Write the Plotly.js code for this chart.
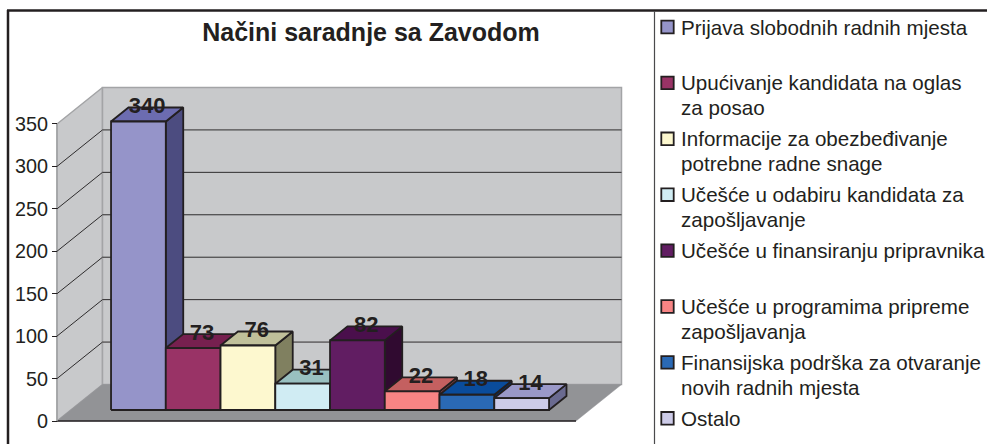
<!DOCTYPE html>
<html>
<head>
<meta charset="utf-8">
<script src="https://cdn.plot.ly/plotly-3.0.1.min.js"></script>
<style>html,body{margin:0;padding:0;background:#fff}#chart{width:987px;height:444px}</style>
</head>
<body>
<div id="chart"></div>
<script>
const categories = [
  "Prijava slobodnih radnih mjesta",
  "Upućivanje kandidata na oglas<br>za posao",
  "Informacije za obezbeđivanje<br>potrebne radne snage",
  "Učešće u odabiru kandidata za<br>zapošljavanje",
  "Učešće u finansiranju pripravnika",
  "Učešće u programima pripreme<br>zapošljavanja",
  "Finansijska podrška za otvaranje<br>novih radnih mjesta",
  "Ostalo"
];
const values = [340, 73, 76, 31, 82, 22, 18, 14];
const frontColors = ["#9594c9","#993366","#fdf8cf","#d0ecf3","#611d62","#f78484","#2a69b5","#cdcbe8"];
const topColors   = ["#6c6cb0","#76204f","#c0c09a","#99c0c0","#4a0f4c","#c46060","#0a4c9c","#9a98c8"];
const sideColors  = ["#4c4c80","#4c1a33","#808060","#688080","#300a30","#804040","#0a3068","#6a6a90"];
const yTicks = [0,50,100,150,200,250,300,350];
const titleText = "Načini saradnje sa Zavodom";

const W = 987, H = 444;
const INK = "#231f20";
// scales: one category = 54.75 px, one value unit = 0.8486 px
const catPx = 54.75, k = 0.8486, cat0Px = 124.7, y0Px = 421;
// depth of the box (0 front of floor, 1 back wall), in category and value units
const depthX = 45.5 / catPx, depthY = 36.5 / k;
const xr = [-cat0Px / catPx, (W - cat0Px) / catPx];
const yr = [(y0Px - H) / k, y0Px / k];
const proj = (c, v, d) => [c + d * depthX, v + d * depthY];

const poly = (pts, fill, lineColor, lw) => ({
  type: "scatter", mode: "lines", fill: "toself", fillcolor: fill,
  x: pts.map(p => p[0]).concat(pts[0][0]), y: pts.map(p => p[1]).concat(pts[0][1]),
  line: {color: lineColor, width: lw}, hoverinfo: "skip", showlegend: false
});
const seg = (a, b, color, lw) => ({
  type: "scatter", mode: "lines", x: [a[0], b[0]], y: [a[1], b[1]],
  line: {color, width: lw}, hoverinfo: "skip", showlegend: false
});

const traces = [];
const cL = (57 - cat0Px) / catPx, cR = cL + 519 / catPx, vTop = 350;
const WALL = "#c8c9cb", WALLEDGE = "#a3a4a6", FLOOR = "#929396", GRID = "#2e2c2d";
traces.push(poly([proj(cL,0,0), proj(cL,0,1), proj(cL,vTop,1), proj(cL,vTop,0)], WALL, WALLEDGE, 1.5));
traces.push(poly([proj(cL,0,1), proj(cR,0,1), proj(cR,vTop,1), proj(cL,vTop,1)], WALL, WALLEDGE, 1.5));
traces.push(poly([proj(cL,0,0), proj(cL,0,1), proj(cR,0,1), proj(cR,0,0)], FLOOR, FLOOR, 0.5));
traces.push(seg(proj(cL,0,0), proj(cR,0,0), INK, 1.5));
traces.push(seg(proj(cL,0,0), proj(cL,vTop,0), WALLEDGE, 1.5));
yTicks.filter(v => v > 0 && v < vTop).forEach(v => {
  traces.push(seg(proj(cL,v,0), proj(cL,v,1), GRID, 1));
  traces.push(seg(proj(cL,v,1), proj(cR,v,1), GRID, 1));
});

// bars, left to right, each bar's faces over the previous one
const d0 = 11 / 36.5, d1 = 25 / 36.5, halfW = 0.5;
values.forEach((val, i) => {
  const base = 0;
  const l = i - halfW, r = i + halfW;
  traces.push(poly([proj(r,base,d0), proj(r,base,d1), proj(r,val,d1), proj(r,val,d0)], sideColors[i], INK, 1.8));
  traces.push(poly([proj(l,val,d0), proj(r,val,d0), proj(r,val,d1), proj(l,val,d1)], topColors[i], INK, 1.8));
  traces.push(poly([proj(l,base,d0), proj(r,base,d0), proj(r,val,d0), proj(l,val,d0)], frontColors[i], INK, 1.8));
});

// data labels: centred on the bar's top, level with its back edge
const dMid = (d0 + d1) / 2;
traces.push({
  type: "scatter", mode: "text",
  x: values.map((v, i) => proj(i, v, dMid)[0]),
  y: values.map((v, i) => proj(i, v, d1)[1]),
  text: values.map(String), textposition: "middle center",
  textfont: {family: "Liberation Sans", size: 22, color: INK, weight: 700},
  texttemplate: "<b>%{text}</b>", hoverinfo: "skip", showlegend: false
});

const legendX = 680, legendFirst = 27, legendStep = 55.9, legendLine = 24.6;
const legendY = i => legendFirst + i * legendStep;

const annotations = [];
categories.forEach((c, i) => {
  c.split("<br>").forEach((line, j) => {
    annotations.push({
      xref: "paper", yref: "paper", x: legendX / W, y: 1 - (legendY(i) + j * legendLine) / H,
      xanchor: "left", yanchor: "middle", align: "left", showarrow: false,
      text: line, font: {family: "Liberation Sans", size: 20.6, color: INK}, borderpad: 0
    });
  });
});

const px = x => x / W, py = y => 1 - y / H;
const rule = (x0, y0, x1, y1, w, color) => ({
  type: "line", xref: "paper", yref: "paper", x0: px(x0), y0: py(y0), x1: px(x1), y1: py(y1),
  line: {color, width: w}, layer: "above"
});
const shapes = [
  rule(8, 10, 8, 444, 2.5, INK),
  rule(7, 10.5, 987, 10.5, 2.5, INK),
  rule(654.5, 11, 654.5, 444, 1.2, "#4a4a4c")
];
categories.forEach((c, i) => {
  const cy = legendY(i);
  shapes.push({
    type: "rect", xref: "paper", yref: "paper", layer: "above",
    x0: px(661.3), x1: px(673.7), y0: py(cy - 6.3), y1: py(cy + 6.3),
    fillcolor: frontColors[i], line: {color: INK, width: 1.8}
  });
});

const layout = {
  width: W, height: H, margin: {l: 0, r: 0, t: 0, b: 0},
  paper_bgcolor: "#ffffff", plot_bgcolor: "rgba(0,0,0,0)",
  showlegend: false,
  title: {text: "<b>" + titleText + "</b>", x: 371 / W, xanchor: "center", y: 1 - 32 / H, yanchor: "middle",
          font: {family: "Liberation Sans", size: 25, color: INK}},
  xaxis: {range: xr, domain: [0,1], visible: false, fixedrange: true},
  yaxis: {
    range: yr, domain: [0,1], anchor: "free", position: 57 / W, side: "left",
    tickvals: yTicks, ticktext: yTicks.map(String), tickmode: "array",
    ticks: "outside", ticklen: 5, tickwidth: 1, tickcolor: INK,
    showgrid: false, zeroline: false, showline: false,
    tickfont: {family: "Liberation Sans", size: 19.8, color: INK}, fixedrange: true
  },
  annotations, shapes
};
Plotly.newPlot("chart", traces, layout, {displayModeBar: false, staticPlot: true});
</script>
</body>
</html>
